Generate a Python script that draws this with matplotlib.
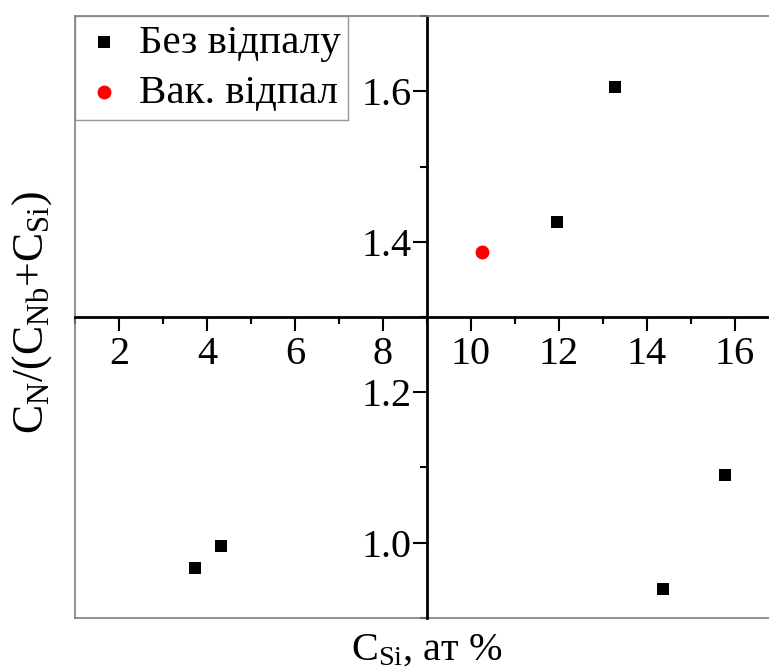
import matplotlib
matplotlib.use("Agg")
import matplotlib.pyplot as plt
from matplotlib.ticker import MultipleLocator

# data
x_raw = [3.73, 4.32, 11.95, 13.27, 14.36, 15.77]
y_raw = [0.966, 0.996, 1.426, 1.605, 0.939, 1.09]
x_vac = [10.25]
y_vac = [1.387]
label_raw = "Без відпалу"
label_vac = "Вак. відпал"
x_ticks = [2, 4, 6, 8, 10, 12, 14, 16]
y_ticks = [1.0, 1.2, 1.4, 1.6]

plt.rcParams['font.family'] = ['Liberation Serif', 'DejaVu Serif']
plt.rcParams['mathtext.fontset'] = 'custom'
plt.rcParams['mathtext.rm'] = 'Liberation Serif'
plt.rcParams['mathtext.it'] = 'Liberation Serif:italic'

W, H = 769, 672
fig = plt.figure(figsize=(W / 100, H / 100), dpi=100)
# axes runs a little past the right edge, like the original crop
ax = fig.add_axes([75 / W, 54 / H, 704 / W, 602 / H])

ax.scatter(x_raw, y_raw, marker='s', s=75, color='black', linewidths=0, label=label_raw, zorder=3)
ax.scatter(x_vac, y_vac, marker='o', s=100, color='red', linewidths=0, label=label_vac, zorder=3)

ax.set_xlim(1, 17)
ax.set_ylim(0.9, 1.7)

# axes crossing in the middle
ax.spines['left'].set_position(('data', 9))
ax.spines['bottom'].set_position(('data', 1.3))
for s in ['left', 'bottom']:
    ax.spines[s].set_linewidth(2)
    ax.spines[s].set_color('black')
ax.spines['top'].set_color('#7f7f7f')
ax.spines['top'].set_linewidth(1.2)
ax.spines['right'].set_visible(False)
# grey outer frame
ax.axvline(1, color='#7f7f7f', lw=1.2, clip_on=False)
ax.axhline(0.9, color='#7f7f7f', lw=1.2, clip_on=False)

ax.set_xticks(x_ticks)
ax.set_yticks(y_ticks)
ax.set_yticklabels(["%.1f" % v for v in y_ticks])
ax.xaxis.set_minor_locator(MultipleLocator(1))
ax.yaxis.set_minor_locator(MultipleLocator(0.1))
ax.tick_params(which='major', direction='out', length=10, width=1.5, labelsize=29)
ax.tick_params(which='minor', direction='out', length=5, width=1.5)
ax.tick_params(axis='x', which='major', pad=4)
ax.tick_params(axis='y', which='major', pad=1)
ax.tick_params(top=False, right=False)

ax.set_xlabel(r'C$_\mathregular{Si}$, ат %', fontsize=29)
ax.xaxis.set_label_coords(0.5, (618 - 660) / 602)
ax.xaxis.label.set_va('baseline')
ax.set_ylabel(r'C$_\mathregular{N}$/(C$_\mathregular{Nb}$+C$_\mathregular{Si}$)', fontsize=31.5)
ax.yaxis.set_label_coords((32 - 75) / 704, (618 - 313) / 602)
ax.yaxis.label.set_va('center')

leg = ax.legend(loc='upper left', fontsize=29.5, frameon=True, fancybox=False,
                edgecolor='#7f7f7f', borderaxespad=0, handletextpad=0.35,
                handlelength=1.0, borderpad=0.2, labelspacing=0.3, markerscale=1.0)
leg.get_frame().set_linewidth(1.0)

fig.savefig("out.png", dpi=100)
